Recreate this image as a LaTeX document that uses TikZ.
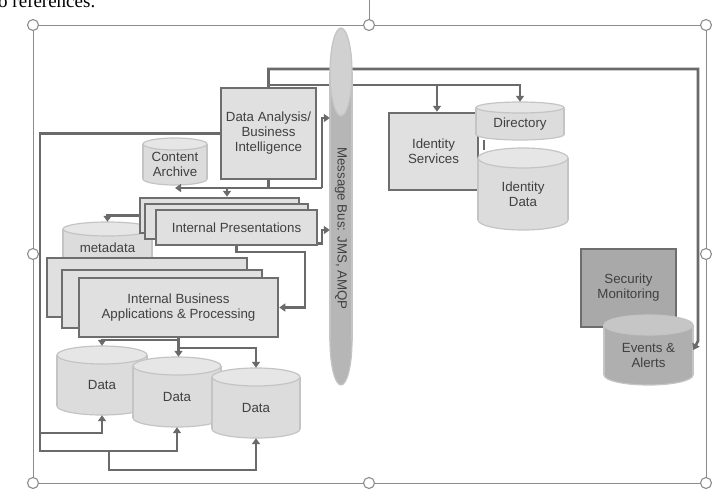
\documentclass[tikz,border=0pt]{standalone}
\usepackage{fontspec}
\setmainfont{Liberation Sans}
\newfontfamily\docserif{Liberation Serif}
\usetikzlibrary{arrows.meta}

\definecolor{boxfill}{HTML}{E0E0E0}
\definecolor{edgegray}{HTML}{6E6E6E}
\definecolor{linegray}{HTML}{6A6A6A}
\definecolor{txtgray}{HTML}{404040}
\definecolor{secfill}{HTML}{A9A9A9}
\definecolor{cyledge}{HTML}{C4C4C4}
\definecolor{lightbody}{HTML}{DCDCDC}
\definecolor{lighttop}{HTML}{E6E6E6}
\definecolor{darkbody}{HTML}{AFAFAF}
\definecolor{darktop}{HTML}{C6C6C6}
\definecolor{busbody}{HTML}{B6B6B6}
\definecolor{bustop}{HTML}{D1D1D1}
\definecolor{selgray}{HTML}{8C8C8C}

\tikzset{
  box/.style={draw=edgegray, line width=2.5pt, fill=boxfill, inner sep=0pt, align=center,
    text=txtgray, font=\fontsize{13.3}{15}\selectfont},
  darkbox/.style={box, fill=secfill},
  lbl/.style={inner sep=0pt, align=center, text=txtgray, font=\fontsize{13.3}{15}\selectfont},
  cylline/.style={draw=cyledge, line width=1.2pt},
  cylspot/.style={inner sep=0pt, draw=none},
  conn/.style={draw=linegray, line width=2.7pt},
  arr/.style={-{Triangle[width=8pt,length=6pt]}},
  selline/.style={draw=selgray, line width=0.9pt},
  handle/.style={draw=selgray, fill=white, line width=1.1pt},
}

% name, centre x, top y, width, height, cap radius, colour set, label options, label
\newcommand{\dbcyl}[9]{%
  \draw[cylline, fill=#7body] (#2,{#3+#5-#6}) ellipse[x radius=#4/2, y radius=#6];
  \fill[#7body] ({#2-#4/2},{#3+#6}) rectangle ({#2+#4/2},{#3+#5-#6});
  \draw[cylline] ({#2-#4/2},{#3+#6}) -- ({#2-#4/2},{#3+#5-#6})
    ({#2+#4/2},{#3+#6}) -- ({#2+#4/2},{#3+#5-#6});
  \draw[cylline, fill=#7top] (#2,{#3+#6}) ellipse[x radius=#4/2, y radius=#6];
  \node[cylspot, minimum width=#4pt, minimum height=#5pt] (#1) at (#2,{#3+#5/2}) {};
  \node[lbl, #8] (#1-txt) at (#2,{#3+#5/2+#6/2}) {#9};
}

\begin{document}
\begin{tikzpicture}[x=1pt, y=-1pt]
\useasboundingbox (0,0) rectangle (718,496);
\clip (0,0) rectangle (718,496);

% page text and selection frame
\node[anchor=base west, inner sep=0pt, font=\docserif\fontsize{19}{19}\selectfont] (pagetext) at (-2,7.5) {o references.};
\draw[selline] (369,0) -- (369,25);
\draw[selline] (33,25) rectangle (706,483);
\foreach \hx/\hy in {33/25, 369/25, 706/25, 33/254, 706/254, 33/483, 369/483, 706/483}
  \draw[handle] (\hx,\hy) circle (5.5pt);

% bend points
\coordinate (evtop) at (698,69);
\coordinate (evbend) at (698,341);
\coordinate (topB) at (268.5,85);
\coordinate (idsb) at (437,85);
\coordinate (midrail) at (322,188);
\coordinate (busin) at (322,118);
\coordinate (iptap) at (227,188);
\coordinate (ipbus) at (322,230);
\coordinate (ibrail) at (305,252);
\coordinate (uprail) at (40,433);
\coordinate (lowrail) at (40,451);
\coordinate (footA) at (109,451);
\coordinate (footB) at (109,470);
\coordinate (ibtapL) at (178.5,340);
\coordinate (ibtapR) at (178.5,348);
\coordinate (dirlink) at (484,150);

% stores behind the stacks
\dbcyl{meta}{107.5}{222}{89}{44}{7}{light}{}{metadata}
\dbcyl{archive}{175}{138}{64}{47}{6}{light}{}{Content\\Archive}

% boxes
\node[box, minimum width=95pt, minimum height=91pt] (dabi) at (268.5,133.5) {Data Analysis/\\Business\\Intelligence};
\node[box, minimum width=159pt, minimum height=35pt] (ipb) at (219.5,215.5) {};
\node[box, minimum width=163pt, minimum height=35pt] (ipm) at (226.5,221.5) {};
\node[box, minimum width=161pt, minimum height=35pt] (ipf) at (236.5,227.5) {Internal Presentations};
\node[box, minimum width=200pt, minimum height=59pt] (ibb) at (147,287.5) {};
\node[box, minimum width=200pt, minimum height=58pt] (ibm) at (162,299) {};
\node[box, minimum width=199pt, minimum height=59pt] (ibf) at (178.5,307.5) {Internal Business\\Applications \& Processing};
\node[box, minimum width=89pt, minimum height=77pt] (ids) at (433.5,151.5) {Identity\\Services};
\node[darkbox, minimum width=95pt, minimum height=78pt] (secmon) at (628.5,288) {Security\\Monitoring};

% stores
\dbcyl{data1}{102}{346}{90}{69}{9}{light}{}{Data}
\dbcyl{data2}{177}{357}{88}{70}{9}{light}{}{Data}
\dbcyl{data3}{256}{368}{88}{70}{9}{light}{}{Data}
\dbcyl{dir}{520}{102}{88}{38}{5.5}{light}{}{Directory}
\dbcyl{iddata}{523}{148}{90}{82}{10}{light}{}{Identity\\Data}
\dbcyl{evts}{648.5}{315}{89}{70}{10}{dark}{}{Events \&\\Alerts}

% lines that pass behind the bus
\draw[conn, arr] (dabi.north) |- (evtop) -- (evbend) -- (evts.east);
\draw[conn, arr] (topB) -| (dir.north);
\draw[conn, arr] (idsb) -- (idsb |- ids.north);

% message bus
\dbcyl{bus}{341}{28}{22}{357}{44}{bus}{rotate=-90}{Message Bus: JMS, AMQP}

% connectors
\draw[conn] (dabi.south) -- (dabi.south |- midrail);
\draw[conn, arr] (midrail) -- (busin) -- (busin -| bus.west);
\draw[conn, arr] (midrail) -- (midrail -| archive.south);
\draw[conn, arr] (iptap) -- (iptap |- ipb.north);
\draw[conn, arr] (ipb.west) -| (meta.north);
\draw[conn, arr] ([yshift=3pt]ipf.south east) -| (ipbus) -- (ipbus -| bus.west);
\draw[conn, arr] (ipf.south) |- (ibrail) |- (ibf.east);
\draw[conn, arr] (dabi.west) -| (lowrail) -| (data2.south);
\draw[conn, arr] (uprail) -| (data1.south);
\draw[conn, arr] (footA) -- (footB) -| (data3.south);
\draw[conn, arr] (ibf.south) -- (ibf.south |- data2.north);
\draw[conn, arr] (ibtapR) -| (data3.north);
\draw[conn, arr] (ibtapL) -| (data1.north);
\draw[conn] (dirlink |- dir.south) -- (dirlink);
\end{tikzpicture}
\end{document}
